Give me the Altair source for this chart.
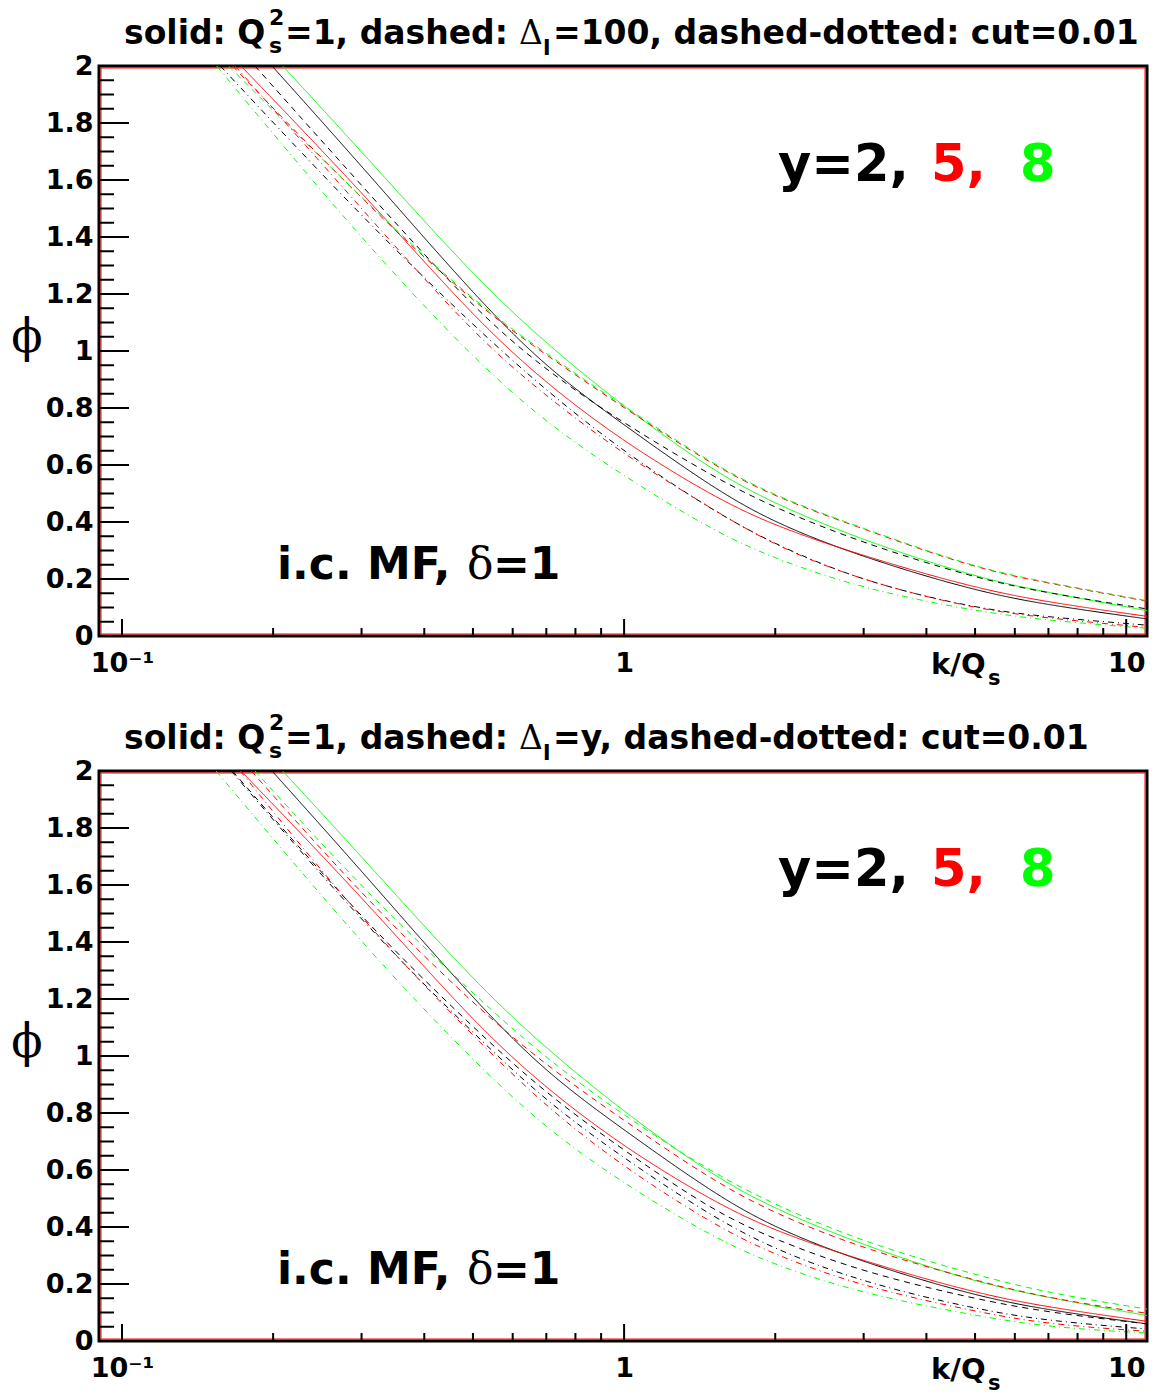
import altair as alt
import pandas as pd

# ---------------- data ----------------
K_GRID = [0.3, 0.5, 0.7, 1, 1.5, 2, 3, 5, 7, 11]
CURVES = ["y=2 solid", "y=5 solid", "y=8 solid",
          "y=2 dashed", "y=5 dashed", "y=8 dashed",
          "y=2 dash-dot", "y=5 dash-dot", "y=8 dash-dot"]
COLORS = ["#000000", "#ff0000", "#00ff00"] * 3
DASHES = [[1, 0]] * 3 + [[6, 5]] * 3 + [[6, 4, 1, 4]] * 3

# solid curves (same in both panels)
S2 = [1.65, 1.20, 0.94, 0.74, 0.52, 0.395, 0.275, 0.158, 0.108, 0.060]
S5 = [1.56, 1.12, 0.885, 0.68, 0.49, 0.385, 0.28, 0.168, 0.118, 0.069]
S8 = [1.70, 1.265, 1.025, 0.803, 0.58, 0.462, 0.335, 0.206, 0.152, 0.089]

# top panel (Delta_l = 100)
TOP_K0 = [0.199, 0.1726, 0.209, 0.184, 0.166, 0.163, 0.157, 0.168, 0.1544]
TD2 = [1.58, 1.15, 0.93, 0.745, 0.56, 0.448, 0.325, 0.203, 0.150, 0.095]
TD5 = [1.53, 1.17, 0.985, 0.80, 0.60, 0.487, 0.375, 0.237, 0.185, 0.122]
TD8 = [1.535, 1.175, 0.99, 0.805, 0.603, 0.49, 0.377, 0.239, 0.187, 0.124]
TDD2 = [1.47, 1.09, 0.86, 0.645, 0.44, 0.32, 0.19, 0.097, 0.066, 0.038]
TDD5 = [1.50, 1.06, 0.84, 0.635, 0.445, 0.315, 0.192, 0.095, 0.062, 0.030]
TDD8 = [1.39, 0.975, 0.747, 0.56, 0.37, 0.27, 0.165, 0.087, 0.054, 0.027]

# bottom panel (Delta_l = y)
BOT_K0 = [0.199, 0.1726, 0.209, 0.166, 0.181, 0.184, 0.165, 0.172, 0.154]
BD2 = [1.48, 1.10, 0.867, 0.668, 0.457, 0.355, 0.241, 0.147, 0.10, 0.06]
BD5 = [1.565, 1.182, 0.966, 0.773, 0.563, 0.446, 0.323, 0.212, 0.15, 0.097]
BD8 = [1.59, 1.218, 0.99, 0.79, 0.59, 0.477, 0.346, 0.232, 0.168, 0.112]
BDD2 = [1.47, 1.08, 0.84, 0.64, 0.435, 0.32, 0.205, 0.112, 0.07, 0.042]
BDD5 = [1.475, 1.07, 0.82, 0.609, 0.41, 0.30, 0.19, 0.103, 0.058, 0.034]
BDD8 = [1.393, 0.983, 0.744, 0.551, 0.364, 0.265, 0.165, 0.089, 0.048, 0.028]

Y_MAJOR = [0, 0.2, 0.4, 0.6, 0.8, 1, 1.2, 1.4, 1.6, 1.8, 2]
Y_MINOR = [0.05, 0.1, 0.15, 0.25, 0.3, 0.35, 0.45, 0.5, 0.55, 0.65, 0.7, 0.75,
           0.85, 0.9, 0.95, 1.05, 1.1, 1.15, 1.25, 1.3, 1.35, 1.45, 1.5, 1.55,
           1.65, 1.7, 1.75, 1.85, 1.9, 1.95]
X_MAJOR = [0.1, 1, 10]
X_MINOR = [0.2, 0.3, 0.4, 0.5, 0.6, 0.7, 0.8, 0.9, 2, 3, 4, 5, 6, 7, 8, 9]

W, H = 1048, 570
SANS = "DejaVu Sans"
SERIF = "DejaVu Serif"

xscale = alt.Scale(type="log", domain=[0.09, 11], nice=False)
yscale = alt.Scale(domain=[0, 2], nice=False, zero=False)
xaxis = alt.Axis(values=X_MAJOR,
                 labelExpr="datum.value < 0.5 ? '10⁻¹' : (datum.value < 5 ? '1' : '10')",
                 ticks=False, tickSize=0, domain=False, grid=False,
                 labelFont=SANS, labelFontWeight="bold", labelFontSize=27,
                 labelColor="black", labelPadding=14, labelFlush=False,
                 labelOverlap=False)
yaxis = alt.Axis(values=Y_MAJOR, labelExpr="'' + datum.value",
                 ticks=False, tickSize=0, domain=False, grid=False,
                 labelFont=SANS, labelFontWeight="bold", labelFontSize=27,
                 labelColor="black", labelPadding=6, labelFlush=False,
                 labelOverlap=False)


def build_df(k0s, series):
    rows = []
    for name, k0, vals in zip(CURVES, k0s, series):
        rows.append({"k": k0, "phi": 2.0, "curve": name})
        for k, v in zip(K_GRID, vals):
            rows.append({"k": k, "phi": v, "curve": name})
    return pd.DataFrame(rows)


def txt(s, x, y, size, color="black", font=SANS, weight="bold", align="left",
        baseline="alphabetic"):
    return alt.Chart(pd.DataFrame({"t": [s]})).mark_text(
        align=align, baseline=baseline, font=font, fontSize=size,
        fontWeight=weight, color=color
    ).encode(x=alt.value(x), y=alt.value(y), text="t:N")


def panel(df, title_pieces, anchor=False):
    lines = alt.Chart(df).mark_line(strokeWidth=1, clip=True, interpolate="basis").encode(
        x=alt.X("k:Q", scale=xscale, axis=xaxis, title=None),
        y=alt.Y("phi:Q", scale=yscale, axis=yaxis, title=None),
        color=alt.Color("curve:N", scale=alt.Scale(domain=CURVES, range=COLORS), legend=None),
        strokeDash=alt.StrokeDash("curve:N", scale=alt.Scale(domain=CURVES, range=DASHES), legend=None),
        detail="curve:N",
    )
    ymaj = alt.Chart(pd.DataFrame({"v": Y_MAJOR})).mark_rule(color="black", strokeWidth=2).encode(
        y=alt.Y("v:Q", scale=yscale, axis=yaxis, title=None), x=alt.value(0), x2=alt.value(30))
    ymin = alt.Chart(pd.DataFrame({"v": Y_MINOR})).mark_rule(color="black", strokeWidth=2).encode(
        y=alt.Y("v:Q", scale=yscale, axis=yaxis, title=None), x=alt.value(0), x2=alt.value(15))
    xmaj = alt.Chart(pd.DataFrame({"v": X_MAJOR})).mark_rule(color="black", strokeWidth=2).encode(
        x=alt.X("v:Q", scale=xscale, axis=xaxis, title=None), y=alt.value(H), y2=alt.value(H - 17))
    xmin = alt.Chart(pd.DataFrame({"v": X_MINOR})).mark_rule(color="black", strokeWidth=2).encode(
        x=alt.X("v:Q", scale=xscale, axis=xaxis, title=None), y=alt.value(H), y2=alt.value(H - 8))
    red = alt.Chart(pd.DataFrame({"a": [0]})).mark_rect(
        filled=False, stroke="#ff0000", strokeWidth=1).encode(
        x=alt.value(2), x2=alt.value(W - 2), y=alt.value(2), y2=alt.value(H - 2))

    texts = [
        txt("y=2,", 679, 115, 51),
        txt("5,", 832, 115, 51, color="#ff0000"),
        txt("8", 921, 115, 51, color="#00ff00"),
        txt("i.c. MF,", 178, 513, 44),
        txt("δ", 368, 513, 44, font=SERIF, weight="normal"),
        txt("=1", 394, 513, 44),
        txt("ϕ", -72, 272, 46, font=SERIF, weight="normal", align="center", baseline="middle"),
        txt("k/Q", 832, 608, 29),
        txt("s", 889, 619, 21),
    ]
    for (s, x, y, size, font, weight, align) in title_pieces:
        texts.append(txt(s, x, y, size, font=font, weight=weight, align=align))

    layers = [red, lines, ymaj, ymin, xmaj, xmin] + texts
    if anchor:
        layers.append(alt.Chart(pd.DataFrame({"a": [0]})).mark_rule(opacity=0).encode(
            x=alt.value(-97), x2=alt.value(-97), y=alt.value(-64), y2=alt.value(-63)))
    return alt.layer(*layers).properties(width=W, height=H)


def title_pieces(rest):
    return [
        ("solid: Q", 25, -22, 33, SANS, "bold", "left"),
        ("2", 170, -41, 22, SANS, "bold", "left"),
        ("s", 170, -13, 22, SANS, "bold", "left"),
        ("=1, dashed:", 186, -22, 33, SANS, "bold", "left"),
        ("Δ", 420, -22, 33, SERIF, "normal", "left"),
        ("l", 444, -11, 22, SANS, "bold", "left"),
        (rest, 454, -22, 33, SANS, "bold", "left"),
    ]


top_df = build_df(TOP_K0, [S2, S5, S8, TD2, TD5, TD8, TDD2, TDD5, TDD8])
bot_df = build_df(BOT_K0, [S2, S5, S8, BD2, BD5, BD8, BDD2, BDD5, BDD8])

top = panel(top_df, title_pieces("=100, dashed-dotted: cut=0.01"), anchor=True)
bottom = panel(bot_df, title_pieces("=y, dashed-dotted: cut=0.01"))

chart = alt.vconcat(top, bottom, spacing=135, bounds="flush").properties(
    padding=0, background="white"
).configure_view(stroke="black", strokeWidth=3)

chart.save("out.html", embed_options={"renderer": "svg", "actions": False})
